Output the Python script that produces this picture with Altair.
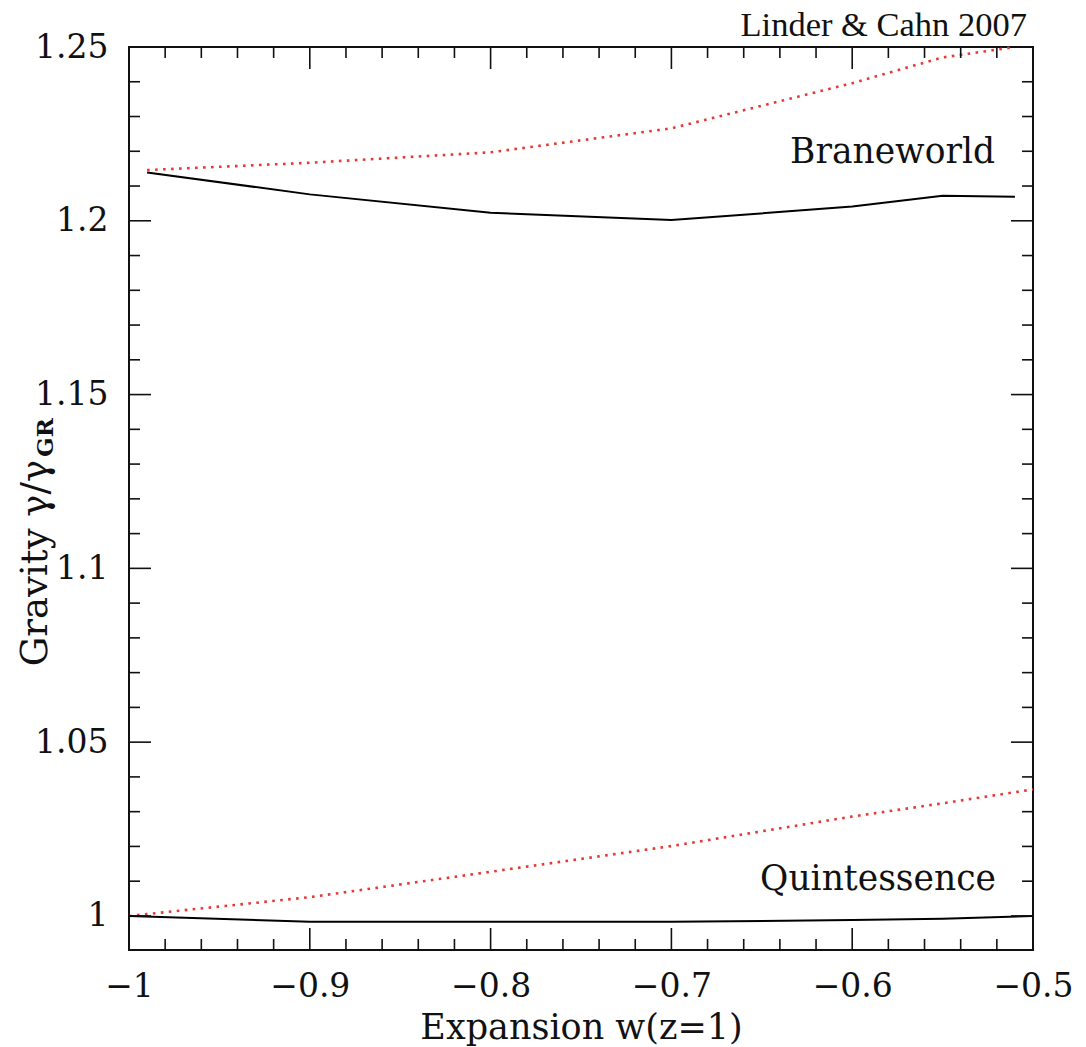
import altair as alt
import pandas as pd

# ---------------- data ----------------
# Braneworld (black solid = gamma ratio, red dotted = companion curve)
brane_w = [-0.99, -0.9, -0.8, -0.7, -0.6, -0.55, -0.51]
brane_solid = [1.2139, 1.2076, 1.2023, 1.2002, 1.2041, 1.2072, 1.2069]
brane_dotted = [1.2146, 1.2167, 1.2197, 1.2266, 1.2396, 1.2470, 1.2500]

# Quintessence
quint_w = [-1.0, -0.9, -0.8, -0.7, -0.6, -0.55, -0.5]
quint_solid = [1.0000, 0.9983, 0.9983, 0.9983, 0.9988, 0.9992, 1.0000]
quint_dotted = [1.0000, 1.0054, 1.0127, 1.0201, 1.0286, 1.0324, 1.0364]

# axis ticks / labels
x_major = [-1.0, -0.9, -0.8, -0.7, -0.6, -0.5]
x_minor = [-0.98, -0.96, -0.94, -0.92, -0.88, -0.86, -0.84, -0.82,
           -0.78, -0.76, -0.74, -0.72, -0.68, -0.66, -0.64, -0.62,
           -0.58, -0.56, -0.54, -0.52]
y_major = [1.0, 1.05, 1.1, 1.15, 1.2, 1.25]
y_minor = [1.01, 1.02, 1.03, 1.04, 1.06, 1.07, 1.08, 1.09,
           1.11, 1.12, 1.13, 1.14, 1.16, 1.17, 1.18, 1.19,
           1.21, 1.22, 1.23, 1.24]

# curve labels (data coordinates of right end / baseline)
label_text = ["Braneworld", "Quintessence"]
label_w = [-0.521, -0.5205]
label_g = [1.2166, 1.0075]

X_DOMAIN = [-1.0, -0.5]
Y_DOMAIN = [0.9902, 1.25]

W, H = 904, 903
SERIF = "DejaVu Serif"

# ---------------- build tables ----------------
rows = []
for w, g in zip(brane_w, brane_solid):
    rows.append({"w": w, "g": g, "series": "brane", "style": "solid"})
for w, g in zip(brane_w, brane_dotted):
    rows.append({"w": w, "g": g, "series": "brane", "style": "dotted"})
for w, g in zip(quint_w, quint_solid):
    rows.append({"w": w, "g": g, "series": "quint", "style": "solid"})
for w, g in zip(quint_w, quint_dotted):
    rows.append({"w": w, "g": g, "series": "quint", "style": "dotted"})
df = pd.DataFrame(rows)

xs = alt.Scale(domain=X_DOMAIN, nice=False, zero=False)
ys = alt.Scale(domain=Y_DOMAIN, nice=False, zero=False)

x_axis = alt.Axis(
    values=x_major, format="~g", ticks=False, domain=False, grid=False,
    labelFont=SERIF, labelFontSize=33, labelColor="#111", labelPadding=20,
    labelFlush=False, labelOverlap=False,
    title="Expansion w(z=1)", titleFont=SERIF, titleFontSize=35,
    titleFontWeight="normal", titleColor="#111",
    titleBaseline="alphabetic", titleY=88,
)
y_axis = alt.Axis(
    values=y_major, format="~g", ticks=False, domain=False, grid=False,
    labelFont=SERIF, labelFontSize=33, labelColor="#111", labelPadding=21,
    labelOverlap=False, labelFlush=False, title=None,
)

base = alt.Chart(df)

solid = base.transform_filter(alt.datum.style == "solid").mark_line(
    color="black", strokeWidth=2
).encode(
    x=alt.X("w:Q", scale=xs, axis=x_axis),
    y=alt.Y("g:Q", scale=ys, axis=y_axis),
    detail="series:N",
)

dotted = base.transform_filter(alt.datum.style == "dotted").mark_line(
    color="#e53a34", strokeWidth=2.6, strokeDash=[2.6, 5.4], strokeCap="butt"
).encode(
    x=alt.X("w:Q", scale=xs),
    y=alt.Y("g:Q", scale=ys),
    detail="series:N",
)

# ---------------- inward ticks on all four sides ----------------
def xticks(vals, length):
    d = pd.DataFrame({"v": vals})
    bottom = alt.Chart(d).mark_rule(color="#111", strokeWidth=1.6).encode(
        x=alt.X("v:Q", scale=xs), y=alt.value(H), y2=alt.value(H - length))
    top = alt.Chart(d).mark_rule(color="#111", strokeWidth=1.6).encode(
        x=alt.X("v:Q", scale=xs), y=alt.value(0), y2=alt.value(length))
    return [bottom, top]


def yticks(vals, length):
    d = pd.DataFrame({"v": vals})
    left = alt.Chart(d).mark_rule(color="#111", strokeWidth=1.6).encode(
        y=alt.Y("v:Q", scale=ys), x=alt.value(0), x2=alt.value(length))
    right = alt.Chart(d).mark_rule(color="#111", strokeWidth=1.6).encode(
        y=alt.Y("v:Q", scale=ys), x=alt.value(W), x2=alt.value(W - length))
    return [left, right]


tick_layers = (xticks(x_major, 22) + xticks(x_minor, 11)
               + yticks(y_major, 22) + yticks(y_minor, 11))

# ---------------- text ----------------
lab_df = pd.DataFrame({"t": label_text, "w": label_w, "g": label_g})
labels = alt.Chart(lab_df).mark_text(
    font=SERIF, fontSize=34.5, align="right", baseline="alphabetic", color="#111"
).encode(x=alt.X("w:Q", scale=xs), y=alt.Y("g:Q", scale=ys), text="t:N")

credit = alt.Chart(pd.DataFrame({"t": ["Linder & Cahn 2007"]})).mark_text(
    font="Liberation Serif", fontSize=34.5, align="right", baseline="alphabetic",
    color="#111"
).encode(x=alt.value(898), y=alt.value(-11), text="t:N")

ytitle_main = alt.Chart(pd.DataFrame({"t": ["Gravity γ/γ"]})).mark_text(
    font=SERIF, fontSize=37, align="right", baseline="alphabetic", angle=270,
    color="#111"
).encode(x=alt.value(-82), y=alt.value(413), text="t:N")

ytitle_sub = alt.Chart(pd.DataFrame({"t": ["GR"]})).mark_text(
    font=SERIF, fontSize=23, fontWeight="bold", align="left",
    baseline="alphabetic", angle=270, color="#111"
).encode(x=alt.value(-76), y=alt.value(410), text="t:N")

chart = alt.layer(
    dotted, solid, *tick_layers, labels, credit, ytitle_main, ytitle_sub
).properties(
    width=W, height=H,
    autosize=alt.AutoSizeParams(type="none"),
    padding={"left": 129, "top": 47, "right": 53, "bottom": 97},
    background="white",
).configure_view(stroke="#111", strokeWidth=2)

chart.save("out.html", embed_options={"renderer": "svg", "actions": False})
